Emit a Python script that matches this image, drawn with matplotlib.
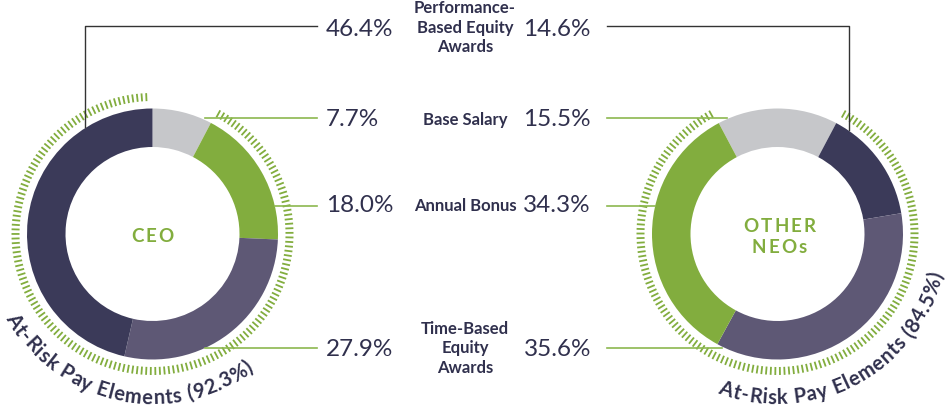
import numpy as np
import matplotlib
matplotlib.use('Agg')
import matplotlib.pyplot as plt
from matplotlib.collections import LineCollection
from matplotlib.font_manager import FontProperties

# data
categories = ['Performance-\nBased Equity\nAwards', 'Base Salary', 'Annual Bonus', 'Time-Based\nEquity\nAwards']
ceo_pct = [46.4, 7.7, 18.0, 27.9]
neo_pct = [14.6, 15.5, 34.3, 35.6]
ceo_at_risk = 92.3
neo_at_risk = 84.5

# colours per category
GREY = '#c6c7ca'
GREEN = '#82ad3e'
MID = '#5e5875'
DARK = '#3b3a59'
TEXT = '#30304d'
cat_colors = [DARK, GREY, GREEN, MID]

W, H = 948, 409
fig = plt.figure(figsize=(W / 100, H / 100), dpi=100)
ax = fig.add_axes([0, 0, 1, 1])

FAM = ['Lato', 'DejaVu Sans']
rend = fig.canvas.get_renderer()


def Y(y):
    return H - y


def wid(t, fp):
    return rend.get_text_width_height_descent(t, fp, ismath=False)[0]


R_OUT, R_IN = 125.5, 87.0
ceo_c = (152.5, Y(234))
neo_c = (777.5, Y(234))

# CEO: clockwise from top -> base, bonus, time, perf
ceo_order = [1, 2, 3, 0]
ax.pie([ceo_pct[i] for i in ceo_order], colors=[cat_colors[i] for i in ceo_order],
       center=ceo_c, radius=R_OUT, startangle=90, counterclock=False,
       wedgeprops=dict(width=R_OUT - R_IN, linewidth=0))

# Other NEOs: base salary centred on top, then perf, time, bonus
neo_order = [1, 0, 3, 2]
ax.pie([neo_pct[i] for i in neo_order], colors=[cat_colors[i] for i in neo_order],
       center=neo_c, radius=R_OUT, startangle=90 + neo_pct[1] * 3.6 / 2, counterclock=False,
       wedgeprops=dict(width=R_OUT - R_IN, linewidth=0))


def hatch_ring(center, a_start, a_end, r0=133, r1=141, step=1.9):
    # radial green ticks from a_start down to a_end (math degrees, clockwise)
    ang = np.radians(np.arange(a_start, a_end, -step))
    cx, cy = center
    segs = [[(cx + r0 * np.cos(a), cy + r0 * np.sin(a)),
             (cx + r1 * np.cos(a), cy + r1 * np.sin(a))] for a in ang]
    ax.add_collection(LineCollection(segs, colors=GREEN, linewidths=1.3, capstyle='butt'))


# at-risk arcs cover everything except base salary
ceo_base_end = 90 - ceo_pct[1] * 3.6
hatch_ring(ceo_c, ceo_base_end - 1, ceo_base_end - ceo_at_risk * 3.6 + 1)
neo_base_end = 90 - neo_pct[1] * 3.6 / 2
hatch_ring(neo_c, neo_base_end - 1, neo_base_end - neo_at_risk * 3.6 + 1)


def tracked_text(x, y, s, fp, color, track):
    total = wid(s, fp) + track * (len(s) - 1)
    x0 = x - total / 2
    for i, ch in enumerate(s):
        pos = wid(s[:i + 1], fp) - wid(ch, fp) / 2 + track * i
        ax.text(x0 + pos, y, ch, ha='center', va='center', color=color, fontproperties=fp)


# centre labels
fp_c = FontProperties(family=FAM, size=13.5, weight='bold')
tracked_text(ceo_c[0], Y(237), 'CEO', fp_c, GREEN, 2.2)
tracked_text(neo_c[0] + 2, Y(226), 'OTHER', fp_c, GREEN, 2.2)
tracked_text(neo_c[0] + 2, Y(247.5), 'NEOs', fp_c, GREEN, 2.2)

# rows of labels
row_y = [29, 120, 206, 350]
cat_y = [27.5, 120, 206, 348.5]
line_y = [26, 118, 206, 348]
ceo_start_x = [None, 205, 275, 205]
neo_end_x = [None, 727, 655, 722]

for k in range(4):
    ax.text(465, Y(cat_y[k]), categories[k], ha='center', va='center',
            color=TEXT, fontsize=12, fontweight='bold', family=FAM, linespacing=1.25)
    ax.text(326, Y(row_y[k]), f'{ceo_pct[k]:.1f}%', ha='left', va='center', color=TEXT,
            fontsize=17.5, fontweight='normal', family=FAM)
    ax.text(591, Y(row_y[k]), f'{neo_pct[k]:.1f}%', ha='right', va='center', color=TEXT,
            fontsize=17.5, fontweight='normal', family=FAM)
    if k == 0:
        ax.plot([85, 85, 317], [Y(127), Y(line_y[0]), Y(line_y[0])], color='#333333', lw=1.0)
        ax.plot([607, 849, 849], [Y(line_y[0]), Y(line_y[0]), Y(130)], color='#333333', lw=1.0)
    else:
        ax.plot([ceo_start_x[k], 317], [Y(line_y[k])] * 2, color='#8cb84f', lw=1.2)
        ax.plot([607, neo_end_x[k]], [Y(line_y[k])] * 2, color='#8cb84f', lw=1.2)


def arc_text(s, center, radius, mid_deg, size, track=0.5):
    fp = FontProperties(family=FAM, size=size, weight='bold')
    total = wid(s, fp) + track * (len(s) - 1)
    start = np.radians(mid_deg) - total / 2 / radius
    cx, cy = center
    for i, ch in enumerate(s):
        if ch == ' ':
            continue
        pos = wid(s[:i + 1], fp) - wid(ch, fp) / 2 + track * i
        th = start + pos / radius
        ax.text(cx + radius * np.cos(th), cy + radius * np.sin(th), ch,
                rotation=np.degrees(th) + 90, rotation_mode='anchor',
                ha='center', va='center', color=TEXT, fontproperties=fp)


arc_text(f'At-Risk Pay Elements ({ceo_at_risk}%)', ceo_c, 164, 258.2, 14.5)
arc_text(f'At-Risk Pay Elements ({neo_at_risk}%)', neo_c, 164, 297.8, 14.5)

ax.set_xlim(0, W)
ax.set_ylim(0, H)
ax.set_aspect('equal')
ax.axis('off')

fig.savefig('out.png', dpi=100)
